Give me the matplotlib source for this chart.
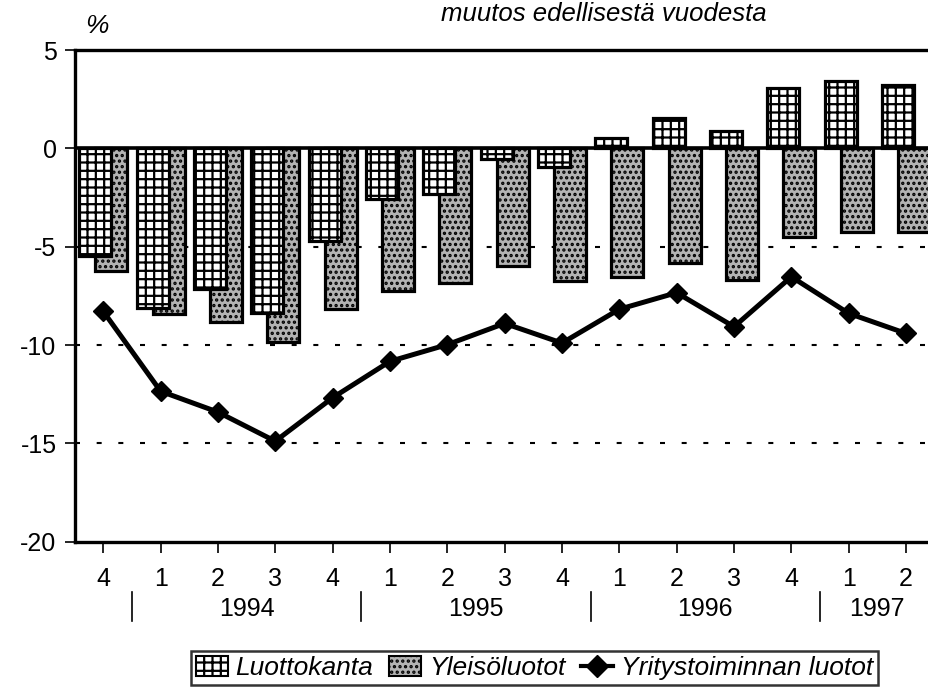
import matplotlib
matplotlib.use('Agg')
import matplotlib.pyplot as plt
from matplotlib.patches import Patch
from matplotlib.lines import Line2D

plt.rcParams['font.family'] = ['Liberation Sans', 'DejaVu Sans']
plt.rcParams['hatch.linewidth'] = 1.6

quarters = ['4', '1', '2', '3', '4', '1', '2', '3', '4', '1', '2', '3', '4', '1', '2']
years = ['1994', '1995', '1996', '1997']
year_pos = [2.5, 6.5, 10.5, 13.5]
year_breaks = [0.5, 4.5, 8.5, 12.5]

luottokanta = [-5.45, -8.14, -7.17, -8.36, -4.72, -2.6, -2.3, -0.52, -0.95, 0.54, 1.52, 0.86, 3.08, 3.42, 3.23]
yleisoluotot = [-6.24, -8.44, -8.83, -9.85, -8.15, -7.26, -6.87, -6.0, -6.73, -6.56, -5.85, -6.67, -4.53, -4.25, -4.25]
yritys = [-8.29, -12.35, -13.41, -14.89, -12.68, -10.83, -9.98, -8.9, -9.9, -8.18, -7.34, -9.07, -6.53, -8.39, -9.41]

labels = ['Luottokanta', 'Yleisöluotot', 'Yritystoiminnan luotot']

GRAY = '#b3b3b3'
DOTS = '...'


def draw(ax):
	x = list(range(len(quarters)))
	w = 0.56
	off = 0.14
	# dotted reference lines behind the bars
	for yv in [-5, -10, -15]:
		ax.axhline(yv, color='black', lw=1.5, ls=(0, (2.4, 8)), zorder=1)
	ax.bar([i + off for i in x], yleisoluotot, width=w, color=GRAY,
		edgecolor='black', linewidth=2.3, hatch=DOTS, zorder=2)
	ax.bar([i - off for i in x], luottokanta, width=w, color='white',
		edgecolor='black', linewidth=2.3, hatch='++', zorder=3)
	ax.axhline(0, color='black', lw=2.6, zorder=4)
	ax.plot(x, yritys, color='black', lw=3.6, marker='D', markersize=10.5, zorder=5)

	ax.set_xlim(-0.5, len(quarters) - 0.5)
	ax.set_ylim(-20, 5)
	ax.set_yticks([5, 0, -5, -10, -15, -20])
	ax.set_yticklabels(['5', '0', '-5', '-10', '-15', '-20'])
	ax.set_xticks(x)
	ax.set_xticklabels(quarters)
	ax.tick_params(axis='both', labelsize=18, direction='out', width=1.2, color='black')
	ax.tick_params(axis='x', length=8, pad=10)
	ax.tick_params(axis='y', length=7, pad=6)

	for s in ['left', 'top', 'bottom']:
		ax.spines[s].set_linewidth(2.4)
	ax.spines['right'].set_visible(False)

	tr = ax.get_xaxis_transform()
	for xb in year_breaks:
		ax.plot([xb, xb], [-0.103, -0.161], color='black', lw=1.2, transform=tr, clip_on=False)
	for yr, xp in zip(years, year_pos):
		ax.text(xp, -0.137, yr, transform=tr, ha='center', va='center', fontsize=18)


def main():
	fig = plt.figure(figsize=(9.29, 6.87), dpi=100)
	ax = fig.add_axes([0.0803, 0.2115, 0.9258, 0.7157])
	draw(ax)

	fig.text(604 / 929, 1 - 21 / 687, 'muutos edellisestä vuodesta', ha='center',
		va='baseline', fontsize=18.5, style='italic')
	fig.text(97 / 929, 1 - 33 / 687, '%', ha='center', va='baseline',
		fontsize=19, style='italic')

	handles = [
		Patch(facecolor='white', edgecolor='black', hatch='++', linewidth=1.5),
		Patch(facecolor=GRAY, edgecolor='black', hatch=DOTS, linewidth=1.5),
		Line2D([], [], color='black', lw=3, marker='D', markersize=11),
	]
	leg = fig.legend(handles, labels, loc='center', bbox_to_anchor=(534.5 / 929, 1 - 668 / 687),
		ncol=3, frameon=True, fancybox=False, edgecolor='black', borderpad=0.2,
		handlelength=1.2, handleheight=0.8, handletextpad=0.3, columnspacing=0.6,
		borderaxespad=0, prop={'size': 19, 'style': 'italic'})
	leg.get_frame().set_linewidth(1.8)

	fig.savefig('out.png', dpi=100)


if __name__ == '__main__':
	main()
